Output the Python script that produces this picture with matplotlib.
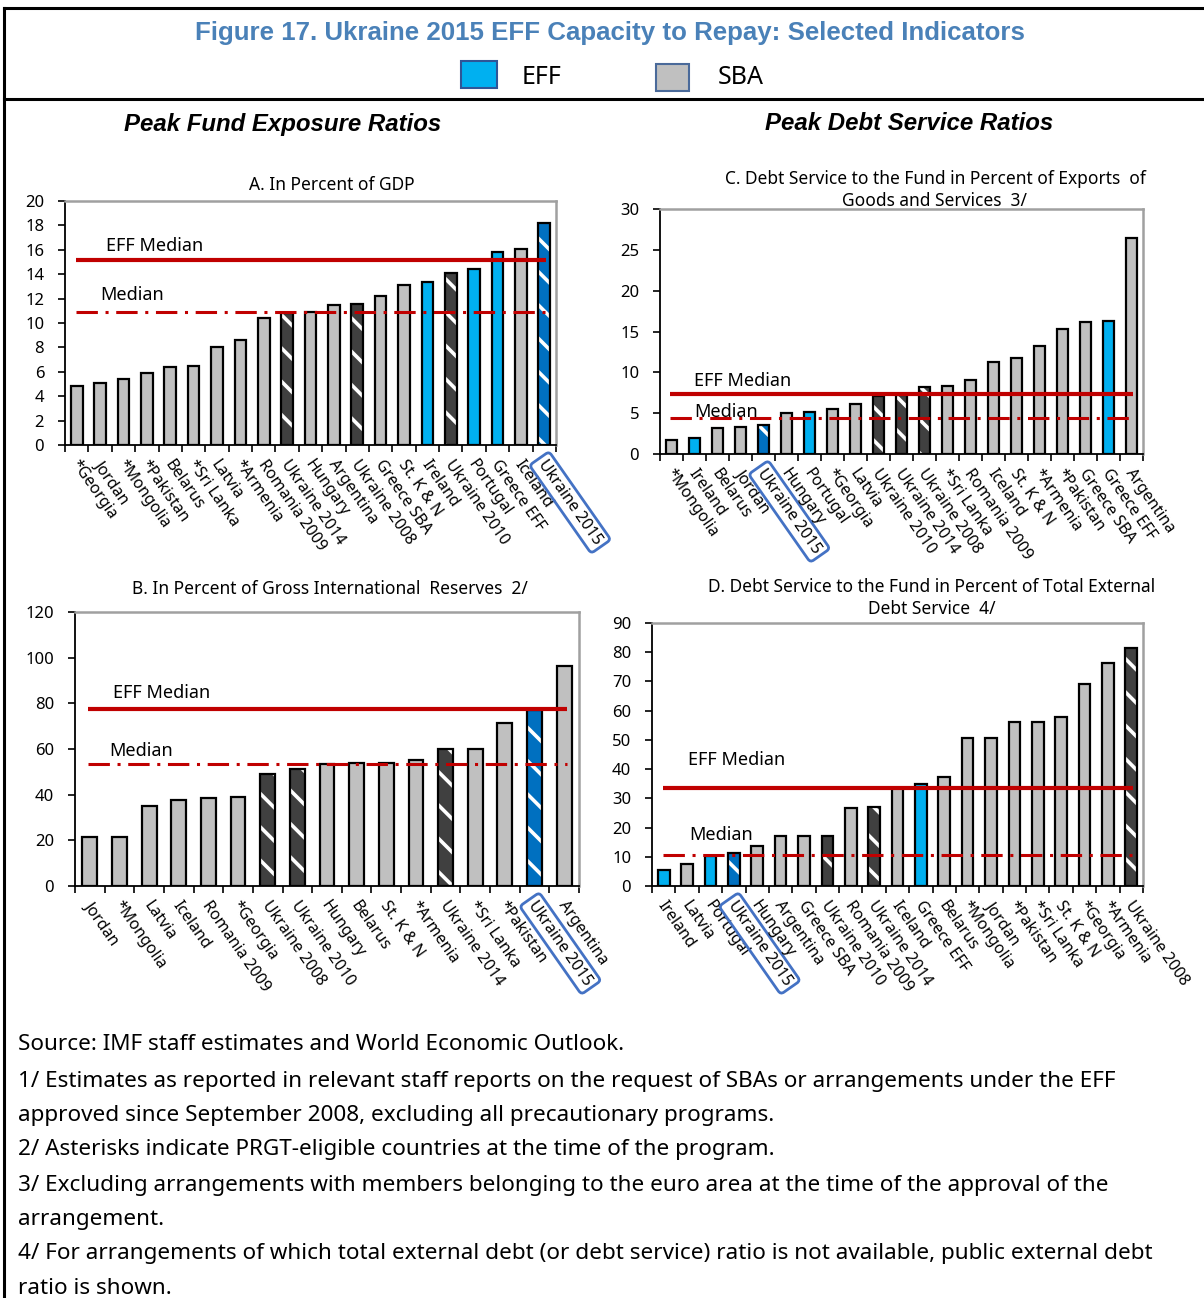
import matplotlib
matplotlib.use("Agg")
import matplotlib.pyplot as plt
from matplotlib.lines import Line2D
from matplotlib.patches import Rectangle

plt.rcParams['font.family'] = ['Noto Sans', 'DejaVu Sans']
plt.rcParams['hatch.linewidth'] = 2.6

W, H = 1204, 1298
BOLD_FAM = ['Liberation Sans', 'DejaVu Sans']

# A. In percent of GDP
cats_a = ['*Georgia', 'Jordan', '*Mongolia', '*Pakistan', 'Belarus', '*Sri Lanka', 'Latvia',
          '*Armenia', 'Romania 2009', 'Ukraine 2014', 'Hungary', 'Argentina', 'Ukraine 2008',
          'Greece SBA', 'St. K & N', 'Ireland', 'Ukraine 2010', 'Portugal', 'Greece EFF',
          'Iceland', 'Ukraine 2015']
vals_a = [4.85, 5.1, 5.4, 5.9, 6.4, 6.5, 8.0, 8.6, 10.4, 10.8, 10.9, 11.45, 11.55, 12.2,
          13.1, 13.35, 14.1, 14.4, 15.85, 16.05, 18.2]
eff_med_a, med_a = 15.2, 10.9

# B. In percent of gross international reserves
cats_b = ['Jordan', '*Mongolia', 'Latvia', 'Iceland', 'Romania 2009', '*Georgia',
          'Ukraine 2008', 'Ukraine 2010', 'Hungary', 'Belarus', 'St. K & N', '*Armenia',
          'Ukraine 2014', '*Sri Lanka', '*Pakistan', 'Ukraine 2015', 'Argentina']
vals_b = [21.4, 21.4, 35.2, 37.7, 38.4, 38.8, 49.1, 51.4, 53.5, 53.9, 53.8, 55.1,
          60.1, 60.1, 71.6, 77.0, 96.3]
eff_med_b, med_b = 77.4, 53.6

# C. Debt service in percent of exports
cats_c = ['*Mongolia', 'Ireland', 'Belarus', 'Jordan', 'Ukraine 2015', 'Hungary', 'Portugal',
          '*Georgia', 'Latvia', 'Ukraine 2010', 'Ukraine 2014', 'Ukraine 2008', '*Sri Lanka',
          'Romania 2009', 'Iceland', 'St. K & N', '*Armenia', '*Pakistan', 'Greece SBA',
          'Greece EFF', 'Argentina']
vals_c = [1.7, 1.9, 3.2, 3.3, 3.55, 5.05, 5.2, 5.5, 6.1, 7.05, 7.2, 8.15, 8.3, 9.1, 11.3,
          11.75, 13.2, 15.3, 16.2, 16.3, 26.4]
eff_med_c, med_c = 7.3, 4.45

# D. Debt service in percent of total external debt service
cats_d = ['Ireland', 'Latvia', 'Portugal', 'Ukraine 2015', 'Hungary', 'Argentina', 'Greece SBA',
          'Ukraine 2010', 'Romania 2009', 'Ukraine 2014', 'Iceland', 'Greece EFF', 'Belarus',
          '*Mongolia', 'Jordan', '*Pakistan', '*Sri Lanka', 'St. K & N', '*Georgia',
          '*Armenia', 'Ukraine 2008']
vals_d = [5.35, 7.6, 10.1, 11.2, 13.8, 17.0, 17.0, 17.0, 26.6, 27.0, 33.5, 34.9, 37.4,
          50.7, 50.7, 56.2, 56.2, 58.0, 69.1, 76.2, 81.3]
eff_med_d, med_d = 33.4, 10.6

eff_programs = ['Ireland', 'Portugal', 'Greece EFF']
ukr_sba = ['Ukraine 2008', 'Ukraine 2010', 'Ukraine 2014']

C_EFF = '#00B0F0'
C_SBA = '#C0C0C0'
C_UKR = '#404040'
C_U15 = '#0070C0'
RED = '#C00000'


def ax_box(l, r, t, b):
    return [l / W, 1 - b / H, (r - l) / W, (b - t) / H]


def draw_panel(ax, cats, vals, eff_med, med, ymax, ystep, eff_lab, med_lab):
    n = len(cats)
    for i, (c, v) in enumerate(zip(cats, vals)):
        if c in eff_programs:
            fc, hatch = C_EFF, None
        elif c in ukr_sba:
            fc, hatch = C_UKR, '\\'
        elif c == 'Ukraine 2015':
            fc, hatch = C_U15, '\\'
        else:
            fc, hatch = C_SBA, None
        if hatch:
            ax.bar(i, v, width=0.5, color=fc, edgecolor='white', linewidth=0,
                   hatch=hatch, zorder=2)
            ax.bar(i, v, width=0.5, fill=False, edgecolor='black', linewidth=1.6, zorder=3)
        else:
            ax.bar(i, v, width=0.5, color=fc, edgecolor='black', linewidth=1.6, zorder=3)

    ax.plot([-0.05, n - 1 + 0.08], [eff_med, eff_med], color=RED, lw=3.0,
            solid_capstyle='butt', zorder=4)
    ax.plot([-0.05, n - 1 + 0.08], [med, med], color=RED, lw=2.2,
            linestyle=(0, (7, 2.5, 1, 2.5)), zorder=4)
    ax.text(eff_lab[0], eff_lab[1], 'EFF Median', fontsize=13, va='center', ha='left', zorder=5)
    ax.text(med_lab[0], med_lab[1], 'Median', fontsize=13, va='center', ha='left', zorder=5)

    ax.set_xlim(-0.5, n - 0.5)
    ax.set_ylim(0, ymax)
    ax.set_yticks(range(0, ymax + 1, ystep))
    ax.tick_params(axis='y', labelsize=12, length=5, width=1.2, direction='out', pad=10)
    ax.set_xticks([i - 0.5 for i in range(n + 1)])
    ax.set_xticklabels([])
    ax.tick_params(axis='x', length=5, width=1.2, direction='out')
    for i, c in enumerate(cats):
        kw = {}
        if c == 'Ukraine 2015':
            kw['bbox'] = dict(boxstyle='round,pad=0.25', fc='none', ec='#4472C4', lw=2)
        ax.annotate(c, xy=(i, 0), xycoords=('data', 'axes fraction'), xytext=(-2, -12),
                    textcoords='offset points', rotation=-55, rotation_mode='anchor',
                    ha='left', va='center', fontsize=11.5, **kw)
    for s in ['left', 'bottom']:
        ax.spines[s].set_color('black')
        ax.spines[s].set_linewidth(1.3)
    for s in ['top', 'right']:
        ax.spines[s].set_color('#A0A0A0')
        ax.spines[s].set_linewidth(1.8)


fig = plt.figure(figsize=(W / 100, H / 100), dpi=100)

# frame lines
fig.add_artist(Line2D([4 / W, 4 / W], [0, 1 - 8 / H], color='black', lw=2.2))
fig.add_artist(Line2D([4 / W, 1], [1 - 8 / H, 1 - 8 / H], color='black', lw=2.2))
fig.add_artist(Line2D([4 / W, 1], [1 - 99 / H, 1 - 99 / H], color='black', lw=2.2))

fig.text(610 / W, 1 - 33 / H, 'Figure 17. Ukraine 2015 EFF Capacity to Repay: Selected Indicators',
         ha='center', va='center', fontsize=18.6, fontweight='bold', color='#4A81B8',
         family=BOLD_FAM)

# legend
fig.add_artist(Rectangle((461 / W, 1 - 88 / H), 36 / W, 27 / H, transform=fig.transFigure,
                         fc=C_EFF, ec='#2F5597', lw=1.5))
fig.text(522 / W, 1 - 77 / H, 'EFF', ha='left', va='center', fontsize=18)
fig.add_artist(Rectangle((656 / W, 1 - 91 / H), 33 / W, 27 / H, transform=fig.transFigure,
                         fc=C_SBA, ec='#4A6A9A', lw=1.5))
fig.text(718 / W, 1 - 78 / H, 'SBA', ha='left', va='center', fontsize=18)

fig.text(283 / W, 1 - 124 / H, 'Peak Fund Exposure Ratios', ha='center', va='center',
         fontsize=17.3, fontweight='bold', fontstyle='italic', family=BOLD_FAM)
fig.text(909 / W, 1 - 124 / H, 'Peak Debt Service Ratios', ha='center', va='center',
         fontsize=17.3, fontweight='bold', fontstyle='italic', family=BOLD_FAM)

fig.text(332 / W, 1 - 185 / H, 'A. In Percent of GDP', ha='center', va='center', fontsize=12.5)
fig.text(935 / W, 1 - 190 / H, 'C. Debt Service to the Fund in Percent of Exports  of\nGoods and Services  3/',
         ha='center', va='center', fontsize=12.5, linespacing=1.3)
fig.text(330 / W, 1 - 589 / H, 'B. In Percent of Gross International  Reserves  2/',
         ha='center', va='center', fontsize=12.5)
fig.text(932 / W, 1 - 598 / H, 'D. Debt Service to the Fund in Percent of Total External\nDebt Service  4/',
         ha='center', va='center', fontsize=12.5, linespacing=1.3)

ax_a = fig.add_axes(ax_box(65, 556, 201, 445))
draw_panel(ax_a, cats_a, vals_a, eff_med_a, med_a, 20, 2, (1.25, 16.3), (1.0, 12.3))
ax_c = fig.add_axes(ax_box(660, 1143, 209, 454))
draw_panel(ax_c, cats_c, vals_c, eff_med_c, med_c, 30, 5, (1.0, 9.0), (1.0, 5.1))
ax_b = fig.add_axes(ax_box(75, 579, 612, 886))
draw_panel(ax_b, cats_b, vals_b, eff_med_b, med_b, 120, 20, (0.78, 84.5), (0.65, 59.3))
ax_d = fig.add_axes(ax_box(652, 1143, 623, 886))
draw_panel(ax_d, cats_d, vals_d, eff_med_d, med_d, 90, 10, (1.05, 43.0), (1.08, 17.5))

notes = [
    'Source: IMF staff estimates and World Economic Outlook.',
    '1/ Estimates as reported in relevant staff reports on the request of SBAs or arrangements under the EFF',
    'approved since September 2008, excluding all precautionary programs.',
    '2/ Asterisks indicate PRGT-eligible countries at the time of the program.',
    '3/ Excluding arrangements with members belonging to the euro area at the time of the approval of the',
    'arrangement.',
    '4/ For arrangements of which total external debt (or debt service) ratio is not available, public external debt',
    'ratio is shown.',
]
note_y = [1045, 1081, 1115, 1150, 1185, 1219, 1254, 1288]
for t, y in zip(notes, note_y):
    fig.text(18 / W, 1 - y / H, t, ha='left', va='center', fontsize=16.2)

fig.savefig('out.png', dpi=100)
